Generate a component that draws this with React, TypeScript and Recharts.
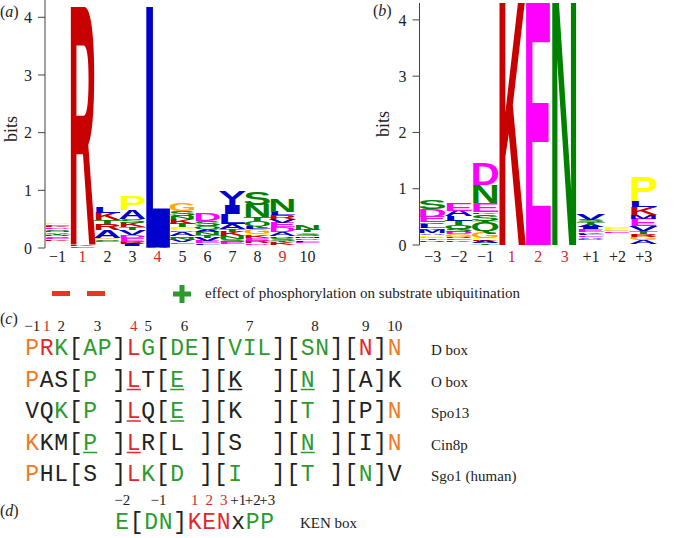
import { Bar, BarChart, XAxis, YAxis } from "recharts";

// logo (a): D box positions
const posA = ["−1", "1", "2", "3", "4", "5", "6", "7", "8", "9", "10"];
const redA = ["1", "4", "9"];

// each stack is bottom -> top, [letter, bits]; "" is the blank base
const aM1: [string, number][] = [["", 0.13], ["K", 0.02], ["E", 0.02], ["S", 0.03], ["R", 0.02], ["T", 0.03], ["A", 0.02], ["N", 0.03], ["S", 0.03], ["D", 0.03], ["K", 0.03], ["E", 0.03], ["P", 0.03]];
const a1: [string, number][] = [["E", 0.03], ["K", 0.03], ["R", 4.12]];
const a2: [string, number][] = [["", 0.1], ["E", 0.03], ["S", 0.03], ["G", 0.02], ["A", 0.14], ["R", 0.1], ["T", 0.06], ["K", 0.13], ["L", 0.1]];
const a3: [string, number][] = [["", 0.03], ["I", 0.04], ["R", 0.04], ["E", 0.07], ["D", 0.04], ["V", 0.09], ["T", 0.05], ["K", 0.08], ["S", 0.06], ["A", 0.16], ["P", 0.25]];
const a4: [string, number][] = [["A", 0.01], ["L", 4.17]];
const a5: [string, number][] = [["", 0.07], ["E", 0.03], ["V", 0.04], ["N", 0.04], ["Q", 0.03], ["A", 0.07], ["D", 0.03], ["P", 0.05], ["T", 0.06], ["K", 0.09], ["N", 0.05], ["S", 0.08], ["G", 0.13]];
const a6: [string, number][] = [["", 0.05], ["F", 0.03], ["E", 0.04], ["V", 0.06], ["T", 0.05], ["N", 0.05], ["A", 0.05], ["Q", 0.05], ["S", 0.09], ["D", 0.14]];
const a7: [string, number][] = [["", 0.07], ["E", 0.04], ["S", 0.05], ["N", 0.04], ["K", 0.08], ["T", 0.05], ["A", 0.09], ["L", 0.17], ["I", 0.15], ["Y", 0.24]];
const a8: [string, number][] = [["", 0.06], ["D", 0.03], ["R", 0.04], ["E", 0.05], ["K", 0.04], ["P", 0.03], ["G", 0.08], ["L", 0.05], ["Q", 0.08], ["T", 0.07], ["N", 0.22], ["S", 0.23]];
const a9: [string, number][] = [["", 0.06], ["K", 0.04], ["T", 0.03], ["S", 0.05], ["R", 0.03], ["A", 0.07], ["D", 0.08], ["E", 0.08], ["V", 0.06], ["R", 0.07], ["L", 0.06], ["N", 0.22]];
const a10: [string, number][] = [["", 0.08], ["E", 0.03], ["F", 0.03], ["D", 0.03], ["M", 0.03], ["S", 0.04], ["P", 0.03], ["T", 0.04], ["N", 0.08]];

// logo (b): KEN box positions
const posB = ["−3", "−2", "−1", "1", "2", "3", "+1", "+2", "+3"];
const redB = ["1", "2", "3"];

const bM3: [string, number][] = [["", 0.06], ["R", 0.03], ["T", 0.03], ["G", 0.03], ["P", 0.03], ["A", 0.03], ["M", 0.06], ["K", 0.03], ["L", 0.07], ["Q", 0.03], ["E", 0.1], ["D", 0.14], ["S", 0.15]];
const bM2: [string, number][] = [["", 0.06], ["K", 0.03], ["E", 0.03], ["R", 0.03], ["G", 0.04], ["D", 0.04], ["S", 0.06], ["Q", 0.06], ["T", 0.08], ["L", 0.08], ["A", 0.1], ["E", 0.14]];
const bM1: [string, number][] = [["T", 0.03], ["A", 0.04], ["K", 0.03], ["P", 0.02], ["G", 0.12], ["Q", 0.16], ["T", 0.03], ["S", 0.12], ["K", 0.03], ["E", 0.16], ["N", 0.32], ["D", 0.38]];
const b1: [string, number][] = [["K", 4.3]];
const b2: [string, number][] = [["E", 4.3]];
const b3: [string, number][] = [["N", 4.3]];
const bP1: [string, number][] = [["", 0.08], ["D", 0.03], ["A", 0.03], ["E", 0.03], ["L", 0.03], ["K", 0.03], ["E", 0.05], ["I", 0.04], ["A", 0.04], ["T", 0.05], ["S", 0.04], ["V", 0.11]];
const bP2: [string, number][] = [["", 0.22], ["E", 0.02], ["G", 0.03], ["P", 0.04]];
const bP3: [string, number][] = [["", 0.02], ["A", 0.07], ["G", 0.06], ["R", 0.05], ["T", 0.05], ["V", 0.09], ["E", 0.13], ["M", 0.07], ["K", 0.13], ["L", 0.11], ["P", 0.42]];

const yTicks = [0, 1, 2, 3, 4];

// panel (c)
const cNumbers: [string, number, boolean][] = [
  ["−1", 0, false], ["1", 1, true], ["2", 2, false], ["3", 4.5, false], ["4", 7, true], ["5", 8, false],
  ["6", 10.5, false], ["7", 15, false], ["8", 19.5, false], ["9", 23, false], ["10", 25, false],
];
const cSeqs = [
  "PRK[AP]LG[DE][VIL][SN][N]N",
  "PAS[P ]LT[E ][K  ][N ][A]K",
  "VQK[P ]LQ[E ][K  ][T ][P]N",
  "KKM[P ]LR[L ][S  ][N ][I]N",
  "PHL[S ]LK[D ][I  ][T ][N]V",
];
// o orange, r red, g green, k black; upper case = underlined
const cCodes = [
  "orgkggkrgkggkkgggkkggkkrko",
  "okkkgkkRkkGkkkKkkkkGkkkkkk",
  "kkgkgkkRkkGkkkkkkkkgkkkkko",
  "okkkGkkRkkkkkkkkkkkGkkkkko",
  "okkkkkkrgkgkkkgkkkkgkkkgkk",
];
const cNames = ["D box", "O box", "Spo13", "Cin8p", "Sgo1 (human)"];

// panel (d)
const dNumbers: [string, number, boolean][] = [
  ["−2", 0, false], ["−1", 2.5, false], ["1", 5, true], ["2", 6, true], ["3", 7, true],
  ["+1", 8, false], ["+2", 9, false], ["+3", 10, false],
];
const dSeq = "E[DN]KENxPP";
const dCode = "gkggkrrrkgg";

const aaColor: Record<string, string> = {
  K: "#C80000", R: "#C80000", H: "#C80000",
  D: "#FF00FF", E: "#FF00FF",
  A: "#0000CC", V: "#0000CC", L: "#0000CC", I: "#0000CC", M: "#0000CC", F: "#0000CC", W: "#0000CC", Y: "#0000CC",
  S: "#008200", T: "#008200", N: "#008200", Q: "#008200", C: "#008200",
  G: "#FFA800", P: "#FFFF00",
};
const txtColor: Record<string, string> = { o: "#F07A26", r: "#E2262A", g: "#2C9A2C", k: "#222222" };

const serif = "'Liberation Serif', 'Times New Roman', serif";
const mono = "'Liberation Mono', 'Courier New', monospace";

function buildRows(pos: string[], cols: [string, number][][]) {
  const depth = Math.max(...cols.map((c) => c.length));
  const rows = pos.map((p, i) => {
    const r: Record<string, string | number> = { pos: p };
    for (let k = 0; k < depth; k++) {
      const c = cols[i][k];
      r[`h${k}`] = c ? c[1] : 0;
      r[`l${k}`] = c ? c[0] : "";
    }
    return r;
  });
  return { rows, depth };
}

const logoA = buildRows(posA, [aM1, a1, a2, a3, a4, a5, a6, a7, a8, a9, a10]);
const logoB = buildRows(posB, [bM3, bM2, bM1, b1, b2, b3, bP1, bP2, bP3]);

// Liberation Sans Bold cap height is ~0.688 em
const CAP = 68.8;

function Glyph(props: any) {
  const { x, y, width, height, payload, layer } = props;
  const letter = payload?.[`l${layer}`];
  if (!letter || !(height > 0)) return null;
  return (
    <g transform={`translate(${x - width * 0.12},${y + height}) scale(${(width * 1.22) / 100},${height / CAP})`}>
      <text x={0} y={0} fontSize={100} fontFamily="'Liberation Sans', Arial, sans-serif" fontWeight="bold"
        textLength={100} lengthAdjust="spacingAndGlyphs" fill={aaColor[letter] ?? "#000"}>
        {letter}
      </text>
    </g>
  );
}

function XTick(props: any) {
  const { x, y, payload, red, dy } = props;
  const v = payload.value as string;
  return (
    <text x={x} y={y + dy} textAnchor="middle" fontSize={16} fontFamily={serif} fill={red.includes(v) ? "#D8282A" : "#222"}>
      {v}
    </text>
  );
}

function Logo({ data, depth, red, dy, width, height, margin, yWidth }: any) {
  return (
    <BarChart width={width} height={height} data={data} margin={margin} barCategoryGap={1}>
      <XAxis dataKey="pos" axisLine={false} tickLine={false} tickSize={0} tickMargin={0} height={27} interval={0}
        tick={<XTick red={red} dy={dy} />} />
      <YAxis domain={[0, 4.3]} ticks={yTicks} allowDataOverflow width={yWidth} tickSize={7} tickMargin={6}
        axisLine={{ stroke: "#444" }} tickLine={{ stroke: "#444" }}
        tick={{ fill: "#222", fontSize: 16, fontFamily: serif }} />
      {Array.from({ length: depth }, (_, k) => (
        <Bar key={k} dataKey={`h${k}`} stackId="s" isAnimationActive={false}
          shape={(p: any) => <Glyph {...p} layer={k} />} />
      ))}
    </BarChart>
  );
}

function SeqChar({ ch, code, cx, base }: { ch: string; code: string; cx: number; base: number }) {
  const col = txtColor[code.toLowerCase()];
  const under = code !== code.toLowerCase();
  return (
    <g>
      <text x={cx} y={base} textAnchor="middle" fontSize={23} fontFamily={mono} fill={col}>{ch}</text>
      {under && <line x1={cx - 7} x2={cx + 7} y1={base + 3} y2={base + 3} stroke={col} strokeWidth={1.5} />}
    </g>
  );
}

const CW = 14.5;

export default function App() {
  const cX0 = 25;
  const dX0 = 115;
  const rowBase = [355, 386.5, 418, 449.5, 481];
  return (
    <div style={{ position: "absolute", left: 0, top: 0, width: 689, height: 538, background: "#fff" }}>
      <svg width={689} height={538} style={{ position: "absolute", left: 0, top: 0 }}>
        <text x={0} y={17} fontSize={16} fontFamily={serif} fill="#222">(<tspan fontStyle="italic">a</tspan>)</text>
        <text x={373} y={16} fontSize={16} fontFamily={serif} fill="#222">(<tspan fontStyle="italic">b</tspan>)</text>
        <text transform="translate(17,129) rotate(-90)" textAnchor="middle" fontSize={18} fontFamily={serif} fill="#222">bits</text>
        <text transform="translate(388.5,124) rotate(-90)" textAnchor="middle" fontSize={18} fontFamily={serif} fill="#222">bits</text>

        {/* phosphorylation effect legend */}
        <rect x={52} y={291} width={18} height={5} fill="#EE3322" />
        <rect x={87} y={291} width={18} height={5} fill="#EE3322" />
        <rect x={173} y={291.5} width={18} height={5} fill="#2C9A2C" />
        <rect x={179.5} y={285} width={5} height={18} fill="#2C9A2C" />
        <text x={205} y={298} fontSize={15} fontFamily={serif} fill="#222">effect of phosphorylation on substrate ubiquitination</text>

        {/* panel (c) */}
        <text x={0} y={324} fontSize={16} fontFamily={serif} fill="#222">(<tspan fontStyle="italic">c</tspan>)</text>
        {cNumbers.map(([t, i, r]) => (
          <text key={t} x={cX0 + CW * (i + 0.5)} y={331} textAnchor="middle" fontSize={15} fontFamily={serif} fill={r ? "#D8282A" : "#222"}>{t}</text>
        ))}
        {cSeqs.map((s, ri) => (
          <g key={ri}>
            {s.split("").map((ch, ci) => (
              ch === " " ? null : <SeqChar key={ci} ch={ch} code={cCodes[ri][ci]} cx={cX0 + CW * (ci + 0.5)} base={rowBase[ri]} />
            ))}
            <text x={431} y={rowBase[ri]} fontSize={15} fontFamily={serif} fill="#222">{cNames[ri]}</text>
          </g>
        ))}

        {/* panel (d) */}
        <text x={0} y={516} fontSize={16} fontFamily={serif} fill="#222">(<tspan fontStyle="italic">d</tspan>)</text>
        {dNumbers.map(([t, i, r]) => (
          <text key={t} x={dX0 + CW * (i + 0.5)} y={505} textAnchor="middle" fontSize={15} fontFamily={serif} fill={r ? "#D8282A" : "#222"}>{t}</text>
        ))}
        {dSeq.split("").map((ch, ci) => (
          <SeqChar key={ci} ch={ch} code={dCode[ci]} cx={dX0 + CW * (ci + 0.5)} base={529} />
        ))}
        <text x={300} y={528} fontSize={15} fontFamily={serif} fill="#222">KEN box</text>
      </svg>

      <div style={{ position: "absolute", left: 0, top: 0 }}>
        <Logo data={logoA.rows} depth={logoA.depth} red={redA} dy={14} width={330} height={275}
          margin={{ top: 0, right: 10, left: 0, bottom: 0 }} yWidth={45} />
      </div>
      <div style={{ position: "absolute", left: 370, top: 0 }}>
        <Logo data={logoB.rows} depth={logoB.depth} red={redB} dy={16.5} width={300} height={272}
          margin={{ top: 3, right: 13, left: 0, bottom: 0 }} yWidth={49.5} />
      </div>
    </div>
  );
}
